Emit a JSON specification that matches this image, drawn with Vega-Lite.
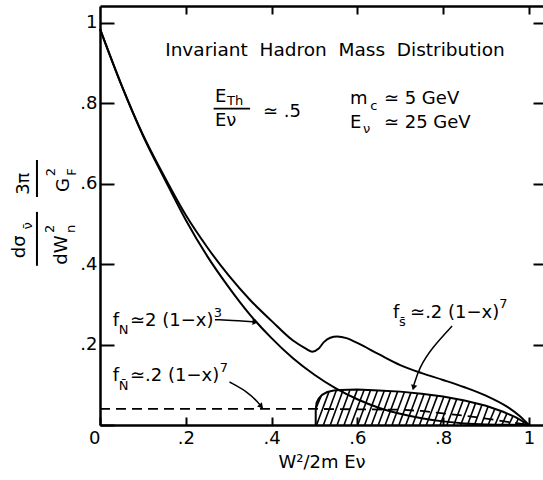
{
  "$schema": "https://vega.github.io/schema/vega-lite/v6.json",
  "width": 443,
  "height": 419,
  "autosize": {"type": "none"},
  "padding": {"left": 100, "top": 6, "right": 0, "bottom": 55},
  "config": {"view": {"stroke": null}, "font": "DejaVu Sans"},
  "resolve": {"axis": {"x": "independent", "y": "independent"}},
  "datasets": {
    "curves": [
      {"x": 0, "y": 0.985, "s": "lower"}, {"x": 0.05, "y": 0.845, "s": "lower"}, {"x": 0.1, "y": 0.72, "s": "lower"},
      {"x": 0.15, "y": 0.613, "s": "lower"}, {"x": 0.2, "y": 0.51, "s": "lower"}, {"x": 0.25, "y": 0.42, "s": "lower"},
      {"x": 0.3, "y": 0.343, "s": "lower"}, {"x": 0.35, "y": 0.274, "s": "lower"}, {"x": 0.4, "y": 0.216, "s": "lower"},
      {"x": 0.45, "y": 0.166, "s": "lower"}, {"x": 0.5, "y": 0.125, "s": "lower"}, {"x": 0.55, "y": 0.091, "s": "lower"},
      {"x": 0.6, "y": 0.064, "s": "lower"}, {"x": 0.65, "y": 0.043, "s": "lower"}, {"x": 0.7, "y": 0.028, "s": "lower"},
      {"x": 0.75, "y": 0.017, "s": "lower"}, {"x": 0.8, "y": 0.009, "s": "lower"}, {"x": 0.85, "y": 0.004, "s": "lower"},
      {"x": 0.9, "y": 0.0015, "s": "lower"}, {"x": 1.0, "y": 0, "s": "lower"},
      {"x": 0, "y": 0.985, "s": "upper"}, {"x": 0.05, "y": 0.846, "s": "upper"}, {"x": 0.1, "y": 0.722, "s": "upper"},
      {"x": 0.15, "y": 0.618, "s": "upper"}, {"x": 0.2, "y": 0.522, "s": "upper"}, {"x": 0.25, "y": 0.442, "s": "upper"},
      {"x": 0.3, "y": 0.372, "s": "upper"}, {"x": 0.35, "y": 0.311, "s": "upper"}, {"x": 0.4, "y": 0.259, "s": "upper"},
      {"x": 0.45, "y": 0.21, "s": "upper"}, {"x": 0.48, "y": 0.19, "s": "upper"}, {"x": 0.495, "y": 0.182, "s": "upper"},
      {"x": 0.51, "y": 0.19, "s": "upper"}, {"x": 0.522, "y": 0.206, "s": "upper"}, {"x": 0.537, "y": 0.217, "s": "upper"},
      {"x": 0.553, "y": 0.22, "s": "upper"}, {"x": 0.575, "y": 0.216, "s": "upper"}, {"x": 0.6, "y": 0.204, "s": "upper"},
      {"x": 0.65, "y": 0.176, "s": "upper"}, {"x": 0.7, "y": 0.149, "s": "upper"}, {"x": 0.75, "y": 0.129, "s": "upper"},
      {"x": 0.8, "y": 0.112, "s": "upper"}, {"x": 0.85, "y": 0.094, "s": "upper"}, {"x": 0.9, "y": 0.073, "s": "upper"},
      {"x": 0.95, "y": 0.045, "s": "upper"}, {"x": 0.98, "y": 0.021, "s": "upper"}, {"x": 1.0, "y": 0, "s": "upper"}
    ],
    "dash": [
      {"x": 0, "y": 0.04}, {"x": 0.5, "y": 0.04}, {"x": 0.7, "y": 0.038}, {"x": 0.75, "y": 0.035},
      {"x": 0.8, "y": 0.029}, {"x": 0.85, "y": 0.023}, {"x": 0.9, "y": 0.016}, {"x": 0.95, "y": 0.008}, {"x": 1.0, "y": 0}
    ],
    "outline": [
      {"i": 0, "x": 0.503, "y": 0}, {"i": 1, "x": 0.503, "y": 0.035}, {"i": 2, "x": 0.505, "y": 0.055},
      {"i": 3, "x": 0.51, "y": 0.066}, {"i": 4, "x": 0.518, "y": 0.075}, {"i": 5, "x": 0.53, "y": 0.082},
      {"i": 6, "x": 0.545, "y": 0.086}, {"i": 7, "x": 0.56, "y": 0.087}, {"i": 8, "x": 0.6, "y": 0.088},
      {"i": 9, "x": 0.65, "y": 0.086}, {"i": 10, "x": 0.7, "y": 0.083}, {"i": 11, "x": 0.75, "y": 0.078},
      {"i": 12, "x": 0.8, "y": 0.071}, {"i": 13, "x": 0.85, "y": 0.061}, {"i": 14, "x": 0.9, "y": 0.048},
      {"i": 15, "x": 0.94, "y": 0.033}, {"i": 16, "x": 0.97, "y": 0.019}, {"i": 17, "x": 1.0, "y": 0}
    ],
    "hatch": [
      {"x": 0.503, "y": 0.04, "x2": 0.516, "y2": 0.073},
      {"x": 0.505, "y": 0, "x2": 0.534, "y2": 0.083}, {"x": 0.521, "y": 0, "x2": 0.551, "y2": 0.086},
      {"x": 0.537, "y": 0, "x2": 0.567, "y2": 0.087}, {"x": 0.553, "y": 0, "x2": 0.583, "y2": 0.0875},
      {"x": 0.569, "y": 0, "x2": 0.6, "y2": 0.088}, {"x": 0.585, "y": 0, "x2": 0.616, "y2": 0.0875},
      {"x": 0.601, "y": 0, "x2": 0.631, "y2": 0.087}, {"x": 0.617, "y": 0, "x2": 0.647, "y2": 0.086},
      {"x": 0.633, "y": 0, "x2": 0.663, "y2": 0.085}, {"x": 0.649, "y": 0, "x2": 0.678, "y2": 0.084},
      {"x": 0.665, "y": 0, "x2": 0.694, "y2": 0.083}, {"x": 0.681, "y": 0, "x2": 0.71, "y2": 0.082},
      {"x": 0.697, "y": 0, "x2": 0.725, "y2": 0.0805}, {"x": 0.713, "y": 0, "x2": 0.741, "y2": 0.079},
      {"x": 0.729, "y": 0, "x2": 0.756, "y2": 0.0775}, {"x": 0.745, "y": 0, "x2": 0.771, "y2": 0.075},
      {"x": 0.761, "y": 0, "x2": 0.787, "y2": 0.073}, {"x": 0.777, "y": 0, "x2": 0.802, "y2": 0.071},
      {"x": 0.793, "y": 0, "x2": 0.817, "y2": 0.068}, {"x": 0.809, "y": 0, "x2": 0.832, "y2": 0.065},
      {"x": 0.825, "y": 0, "x2": 0.847, "y2": 0.062}, {"x": 0.841, "y": 0, "x2": 0.862, "y2": 0.058},
      {"x": 0.857, "y": 0, "x2": 0.876, "y2": 0.055}, {"x": 0.873, "y": 0, "x2": 0.891, "y2": 0.051},
      {"x": 0.889, "y": 0, "x2": 0.905, "y2": 0.046}, {"x": 0.905, "y": 0, "x2": 0.921, "y2": 0.041},
      {"x": 0.921, "y": 0, "x2": 0.935, "y2": 0.035}, {"x": 0.937, "y": 0, "x2": 0.949, "y2": 0.029},
      {"x": 0.953, "y": 0, "x2": 0.963, "y2": 0.022}, {"x": 0.969, "y": 0, "x2": 0.975, "y2": 0.015},
      {"x": 0.985, "y": 0, "x2": 0.988, "y2": 0.007}
    ],
    "arrows": [
      {"a": "N", "i": 0, "x": 0.268, "y": 0.262}, {"a": "N", "i": 1, "x": 0.326, "y": 0.259}, {"a": "N", "i": 2, "x": 0.362, "y": 0.256},
      {"a": "Nbar", "i": 0, "x": 0.302, "y": 0.107}, {"a": "Nbar", "i": 1, "x": 0.345, "y": 0.082}, {"a": "Nbar", "i": 2, "x": 0.368, "y": 0.057}, {"a": "Nbar", "i": 3, "x": 0.378, "y": 0.043},
      {"a": "sbar", "i": 0, "x": 0.821, "y": 0.246}, {"a": "sbar", "i": 1, "x": 0.774, "y": 0.192}, {"a": "sbar", "i": 2, "x": 0.744, "y": 0.142}, {"a": "sbar", "i": 3, "x": 0.731, "y": 0.096}
    ],
    "headR": [{"x": 0.362, "y": 0.256}],
    "headDR": [{"x": 0.376, "y": 0.046}],
    "headD": [{"x": 0.731, "y": 0.093}],
    "fracbar": [{"x": 0.265, "x2": 0.35, "y": 0.787}],
    "titleText": [
      {"x": 0.152, "y": 0.918, "t": "Invariant\u00a0 Hadron\u00a0 Mass\u00a0 Distribution"}
    ],
    "mainText": [
      {"x": 0.268, "y": 0.803, "t": "E"},
      {"x": 0.268, "y": 0.744, "t": "Eν"},
      {"x": 0.38, "y": 0.766, "t": "≃ .5"},
      {"x": 0.583, "y": 0.799, "t": "m"},
      {"x": 0.662, "y": 0.799, "t": "≃ 5 GeV"},
      {"x": 0.583, "y": 0.739, "t": "E"},
      {"x": 0.662, "y": 0.739, "t": "≃ 25 GeV"},
      {"x": 0.03, "y": 0.246, "t": "f"},
      {"x": 0.07, "y": 0.246, "t": "≃2 (1−x)"},
      {"x": 0.03, "y": 0.109, "t": "f"},
      {"x": 0.07, "y": 0.109, "t": "≃.2 (1−x)"},
      {"x": 0.683, "y": 0.266, "t": "f"},
      {"x": 0.723, "y": 0.266, "t": "≃.2 (1−x)"}
    ],
    "subText": [
      {"x": 0.296, "y": 0.796, "t": "Th"},
      {"x": 0.63, "y": 0.784, "t": "c"},
      {"x": 0.613, "y": 0.726, "t": "ν"},
      {"x": 0.044, "y": 0.226, "t": "N"},
      {"x": 0.044, "y": 0.087, "t": "N̄"},
      {"x": 0.697, "y": 0.246, "t": "s̄"},
      {"x": 0.265, "y": 0.268, "t": "3"},
      {"x": 0.279, "y": 0.133, "t": "7"},
      {"x": 0.931, "y": 0.29, "t": "7"}
    ],
    "yTitleBig": [
      {"x": -0.187, "y": 0.443, "t": "dσ"},
      {"x": -0.177, "y": 0.6, "t": "3π"},
      {"x": -0.089, "y": 0.435, "t": "dW"},
      {"x": -0.084, "y": 0.597, "t": "G"}
    ],
    "yTitleSmall": [
      {"x": -0.168, "y": 0.495, "t": "ν̄"},
      {"x": -0.117, "y": 0.488, "t": "2"},
      {"x": -0.068, "y": 0.488, "t": "n"},
      {"x": -0.114, "y": 0.629, "t": "2"},
      {"x": -0.065, "y": 0.629, "t": "F"}
    ],
    "yTitleBars": [
      {"x": -0.147, "y": 0.396, "y2": 0.53},
      {"x": -0.147, "y": 0.567, "y2": 0.659}
    ]
  },
  "layer": [
    {
      "data": {"name": "curves"},
      "mark": {"type": "line", "color": "black", "strokeWidth": 2, "interpolate": "monotone"},
      "encoding": {
        "x": {"field": "x", "type": "quantitative", "scale": {"domain": [0, 1.033], "nice": false, "zero": false},
          "axis": {"orient": "bottom", "values": [0, 0.2, 0.4, 0.6, 0.8, 1], "grid": false, "tickSize": -8, "tickWidth": 2, "tickColor": "black",
            "domainColor": "black", "domainWidth": 2.5, "labelFontSize": 18, "labelColor": "black", "labelPadding": 12, "labelFlush": false,
            "labelExpr": "datum.value == 0 ? '0' : datum.value == 1 ? '1' : replace(format(datum.value, '.1f'), '0.', '.')",
            "labelAlign": {"condition": {"test": "datum.value == 0", "value": "right"}, "value": "center"},
            "title": "W²/2m Eν", "titleFontSize": 18, "titleFontWeight": "normal", "titleColor": "black", "titlePadding": 6}},
        "y": {"field": "y", "type": "quantitative", "scale": {"domain": [0, 1.042], "nice": false, "zero": false},
          "axis": {"orient": "left", "values": [0, 0.2, 0.4, 0.6, 0.8, 1], "grid": false, "tickSize": -14, "tickWidth": 2, "tickColor": "black",
            "domainColor": "black", "domainWidth": 2.5, "labelFontSize": 18, "labelColor": "black", "labelPadding": 17, "labelFlush": false,
            "labelExpr": "datum.value == 0 ? '' : datum.value == 1 ? '1' : replace(format(datum.value, '.1f'), '0.', '.')",
            "title": null}},
        "detail": {"field": "s"}
      }
    },
    {
      "data": {"name": "dash"},
      "mark": {"type": "line", "color": "black", "strokeWidth": 1.8, "strokeDash": [10, 6]},
      "encoding": {
        "x": {"field": "x", "type": "quantitative", "scale": {"domain": [0, 1.033], "nice": false, "zero": false},
          "axis": {"orient": "top", "values": [0.2, 0.4, 0.6, 0.8, 1], "grid": false, "labels": false, "tickSize": -8, "tickWidth": 2, "tickColor": "black",
            "domainColor": "black", "domainWidth": 2.5, "title": null}},
        "y": {"field": "y", "type": "quantitative", "scale": {"domain": [0, 1.042], "nice": false, "zero": false},
          "axis": {"orient": "right", "values": [0.2, 0.4, 0.6, 0.8, 1], "grid": false, "labels": false, "domain": false, "tickSize": -10, "tickWidth": 2, "tickColor": "black", "title": null}}
      }
    },
    {
      "data": {"name": "outline"},
      "mark": {"type": "line", "color": "black", "strokeWidth": 2},
      "encoding": {
        "x": {"field": "x", "type": "quantitative", "axis": null},
        "y": {"field": "y", "type": "quantitative", "axis": null},
        "order": {"field": "i"}
      }
    },
    {
      "data": {"name": "hatch"},
      "mark": {"type": "rule", "color": "black", "strokeWidth": 1.6},
      "encoding": {
        "x": {"field": "x", "type": "quantitative", "axis": null},
        "y": {"field": "y", "type": "quantitative", "axis": null},
        "x2": {"field": "x2"},
        "y2": {"field": "y2"}
      }
    },
    {
      "data": {"name": "arrows"},
      "mark": {"type": "line", "color": "black", "strokeWidth": 1.5, "interpolate": "basis"},
      "encoding": {
        "x": {"field": "x", "type": "quantitative", "axis": null},
        "y": {"field": "y", "type": "quantitative", "axis": null},
        "detail": {"field": "a"},
        "order": {"field": "i"}
      }
    },
    {
      "data": {"name": "headR"},
      "mark": {"type": "point", "shape": "triangle-right", "filled": true, "color": "black", "size": 40, "opacity": 1, "angle": 3},
      "encoding": {
        "x": {"field": "x", "type": "quantitative", "axis": null},
        "y": {"field": "y", "type": "quantitative", "axis": null}
      }
    },
    {
      "data": {"name": "headDR"},
      "mark": {"type": "point", "shape": "triangle-right", "filled": true, "color": "black", "size": 40, "opacity": 1, "angle": 50},
      "encoding": {
        "x": {"field": "x", "type": "quantitative", "axis": null},
        "y": {"field": "y", "type": "quantitative", "axis": null}
      }
    },
    {
      "data": {"name": "headD"},
      "mark": {"type": "point", "shape": "triangle-down", "filled": true, "color": "black", "size": 40, "opacity": 1, "angle": 15},
      "encoding": {
        "x": {"field": "x", "type": "quantitative", "axis": null},
        "y": {"field": "y", "type": "quantitative", "axis": null}
      }
    },
    {
      "data": {"name": "fracbar"},
      "mark": {"type": "rule", "color": "black", "strokeWidth": 1.8},
      "encoding": {
        "x": {"field": "x", "type": "quantitative", "axis": null},
        "x2": {"field": "x2"},
        "y": {"field": "y", "type": "quantitative", "axis": null}
      }
    },
    {
      "data": {"name": "titleText"},
      "mark": {"type": "text", "align": "left", "baseline": "alphabetic", "fontSize": 18.5, "color": "black"},
      "encoding": {
        "x": {"field": "x", "type": "quantitative", "axis": null},
        "y": {"field": "y", "type": "quantitative", "axis": null},
        "text": {"field": "t"}
      }
    },
    {
      "data": {"name": "mainText"},
      "mark": {"type": "text", "align": "left", "baseline": "alphabetic", "fontSize": 18, "color": "black"},
      "encoding": {
        "x": {"field": "x", "type": "quantitative", "axis": null},
        "y": {"field": "y", "type": "quantitative", "axis": null},
        "text": {"field": "t"}
      }
    },
    {
      "data": {"name": "subText"},
      "mark": {"type": "text", "align": "left", "baseline": "alphabetic", "fontSize": 13, "color": "black"},
      "encoding": {
        "x": {"field": "x", "type": "quantitative", "axis": null},
        "y": {"field": "y", "type": "quantitative", "axis": null},
        "text": {"field": "t"}
      }
    },
    {
      "data": {"name": "yTitleBig"},
      "mark": {"type": "text", "align": "center", "baseline": "middle", "fontSize": 18, "angle": 270, "color": "black"},
      "encoding": {
        "x": {"field": "x", "type": "quantitative", "axis": null},
        "y": {"field": "y", "type": "quantitative", "axis": null},
        "text": {"field": "t"}
      }
    },
    {
      "data": {"name": "yTitleSmall"},
      "mark": {"type": "text", "align": "center", "baseline": "middle", "fontSize": 13, "angle": 270, "color": "black"},
      "encoding": {
        "x": {"field": "x", "type": "quantitative", "axis": null},
        "y": {"field": "y", "type": "quantitative", "axis": null},
        "text": {"field": "t"}
      }
    },
    {
      "data": {"name": "yTitleBars"},
      "mark": {"type": "rule", "color": "black", "strokeWidth": 2},
      "encoding": {
        "x": {"field": "x", "type": "quantitative", "axis": null},
        "y": {"field": "y", "type": "quantitative", "axis": null},
        "y2": {"field": "y2"}
      }
    }
  ]
}
